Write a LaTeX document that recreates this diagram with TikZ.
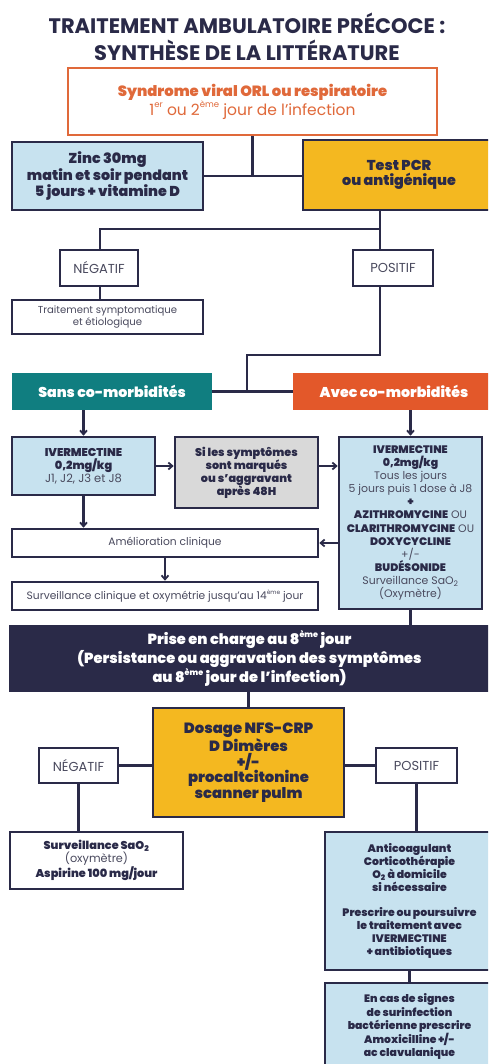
\documentclass[tikz,border=0pt]{standalone}
\usepackage{fontspec}
\IfFontExistsTF{Poppins Black}
  {\setmainfont{Poppins}[BoldFont={Poppins Black}]}
  {\IfFontExistsTF{Poppins ExtraBold}
    {\setmainfont{Poppins}[BoldFont={Poppins ExtraBold}]}
    {\setmainfont{Poppins}}}
\newfontfamily\titlefont{Poppins}
\usetikzlibrary{arrows.meta}
\definecolor{navy}{HTML}{2A2A48}
\definecolor{txtgray}{HTML}{4A4A5E}
\definecolor{orangebox}{HTML}{E0693A}
\definecolor{lightblue}{HTML}{C7E2EF}
\definecolor{yellowbox}{HTML}{F4B820}
\definecolor{tealbox}{HTML}{107E80}
\definecolor{redorange}{HTML}{E3582A}
\definecolor{graybox}{HTML}{D9D9D9}
\newcommand\fs[2]{\fontsize{#1}{#2}\selectfont}
\newcommand\supx[1]{\raisebox{0.85ex}{\scalebox{0.55}{#1}}}
\begin{document}
\begin{tikzpicture}[x=1pt,y=-1pt,
  box/.style={draw=navy, line width=2.6pt, rectangle, align=center, inner sep=0pt, text=navy},
  plain/.style={box, fill=white},
  blue/.style={box, fill=lightblue},
  conn/.style={draw=navy, line width=2.4pt},
  arr/.style={conn, -{Straight Barb[length=4pt,width=7pt,line width=1.8pt]}},
  reg/.style={font=\fs{10.7}{12}, text=txtgray},
  lab/.style={plain, font=\fs{13}{14}, text=txtgray}
]
\useasboundingbox (0,0) rectangle (488,1064);
\clip (0,0) rectangle (488,1064);
\fill[white] (0,0) rectangle (488,1064);

% title
\node[align=center, text=navy, font=\titlefont\bfseries\fs{21}{27}] (title) at (247,37)
  {TRAITEMENT AMBULATOIRE PRÉCOCE :\\SYNTHÈSE DE LA LITTÉRATURE};

% top
\node[box, draw=orangebox, line width=2.2pt, fill=white, minimum width=369pt, minimum height=67pt] (synd) at (252.5,101.5)
  {{\bfseries\fs{14.8}{15}\color{orangebox}Syndrome viral ORL ou respiratoire}\\[0pt]
   {\fs{15.5}{15.5}\color{orangebox}1\supx{er} ou 2\supx{ème} jour de l’infection}};

\node[blue, minimum width=191pt, minimum height=68pt, font=\bfseries\fs{14.3}{14}] (zinc) at (107.5,176)
  {Zinc 30mg\\matin et soir pendant\\5 jours + vitamine D};
\node[box, fill=yellowbox, minimum width=192pt, minimum height=70pt, font=\bfseries\fs{14.3}{14.5}] (pcr) at (399,175)
  {Test PCR\\ou antigénique};

\node[lab, minimum width=78pt, minimum height=36pt] (neg) at (99,268) {NÉGATIF};
\node[lab, minimum width=80pt, minimum height=36pt] (pos) at (393,268) {POSITIF};
\node[plain, minimum width=191pt, minimum height=34pt, font=\fs{10.1}{12}, text=txtgray] (trait) at (107.5,317)
  {Traitement symptomatique\\et étiologique};

\coordinate (pj) at (380,229);
\coordinate (nj) at (100,229);
\coordinate (pk) at (380,355);
\coordinate (sk) at (247,355);

% comorbidities
\node[rectangle, fill=tealbox, minimum width=200pt, minimum height=37pt, text=white, font=\bfseries\fs{14.2}{15}] (sans) at (112,391.5) {Sans co-morbidités};
\node[rectangle, fill=redorange, minimum width=202pt, minimum height=37pt, text=white, font=\bfseries\fs{14.2}{15}] (avec) at (394,391.5) {Avec co-morbidités};

\node[blue, minimum width=143pt, minimum height=58pt, font=\fs{11.5}{13}] (iverL) at (83.5,466)
  {{\bfseries\fs{11.3}{13}IVERMECTINE}\\{\bfseries\fs{11.3}{13}0,2mg/kg}\\{\color{txtgray}J1, J2, J3 et J8}};
\node[box, fill=graybox, minimum width=143pt, minimum height=71pt, font=\bfseries\fs{11.2}{13}] (si) at (246.5,472.5)
  {Si les symptômes\\sont marqués\\ou s’aggravant\\après 48H};
\node[blue, minimum width=143pt, minimum height=172pt, font=\fs{10.9}{13.1}] (iverR) at (410.5,523)
  {\textbf{IVERMECTINE}\\\textbf{0,2mg/kg}\\{\color{txtgray}Tous les jours}\\{\color{txtgray}5 jours puis 1 dose à J8}\\\textbf{+}\\
   \textbf{AZITHROMYCINE} {\color{txtgray}OU}\\\textbf{CLARITHROMYCINE} {\color{txtgray}OU}\\\textbf{DOXYCYCLINE}\\{\color{txtgray}+/-}\\\textbf{BUDÉSONIDE}\\
   {\color{txtgray}Surveillance SaO\textsubscript{2}}\\{\color{txtgray}(Oxymètre)}};

\node[plain, minimum width=306pt, minimum height=28pt, reg] (amel) at (165,543) {Amélioration clinique};
\node[plain, minimum width=306pt, minimum height=28pt, reg] (surv) at (165,596)
  {Surveillance clinique et oxymétrie jusqu’au 14\supx{ème} jour};

% bar
\node[rectangle, fill=navy, minimum width=481pt, minimum height=67pt, text=white, align=center, font=\bfseries\fs{14.6}{14}] (bar) at (249.5,658.5)
  {Prise en charge au 8\supx{ème} jour\\(Persistance ou aggravation des symptômes\\au 8\supx{ème} jour de l’infection)};

\node[box, fill=yellowbox, minimum width=191pt, minimum height=109pt, font=\bfseries\fs{14.8}{15.6}] (dos) at (248.5,762.5)
  {Dosage NFS-CRP\\D Dimères\\+/-\\procaltcitonine\\scanner pulm};
\node[lab, minimum width=79pt, minimum height=35pt] (neg2) at (78.5,765.5) {NÉGATIF};
\node[lab, minimum width=81pt, minimum height=35pt] (pos2) at (416.5,765.5) {POSITIF};

\node[plain, minimum width=173pt, minimum height=57pt, font=\fs{11.3}{13.2}] (sao) at (96.5,860.5)
  {\textbf{Surveillance SaO\textsubscript{2}}\\{\fs{11.3}{13.2}\color{txtgray}(oxymètre)}\\\textbf{Aspirine 100 mg/jour}};
\node[blue, minimum width=169pt, minimum height=138pt, font=\bfseries\fs{10.9}{12.9}] (ant) at (409.5,901)
  {Anticoagulant\\Corticothérapie\\O\textsubscript{2} à domicile\\si nécessaire\\[12.9pt]Prescrire ou poursuivre\\le traitement avec\\IVERMECTINE\\+ antibiotiques};
\node[blue, minimum width=169pt, minimum height=87pt, font=\bfseries\fs{10.8}{13.5}] (last) at (409.5,1026.5)
  {En cas de signes\\de surinfection\\bactérienne prescrire\\Amoxicilline +/-\\ac clavulanique};

% connectors
\draw[conn] (synd.south) -- (synd.south |- zinc.east);
\draw[conn] (zinc.east) -- (pcr.west |- zinc.east);
\draw[conn] (pcr.south -| pj) -- (pj) -- (nj) -- (neg.north -| nj);
\draw[conn] (pj) -- (pos.north -| pj);
\draw[conn] (neg.south -| nj) -- (trait.north -| nj);
\draw[conn] (pos.south -| pk) -- (pk) -- (sk) -- (sk |- sans.east);
\draw[conn] (sans.east) -- (avec.west);
\draw[arr] (iverL.north |- sans.south) -- (iverL.north);
\draw[arr] (iverR.north |- avec.south) -- (iverR.north);
\draw[arr] (iverL.east) -- (si.west |- iverL.east);
\draw[arr] (si.east |- iverL.east) -- (iverR.west |- iverL.east);
\draw[arr] (iverL.south) -- (amel.north -| iverL.south);
\draw[arr] (iverR.west |- amel.east) -- (amel.east);
\draw[arr] (amel.south) -- (surv.north);
\draw[conn] (iverR.south) -- (bar.north -| iverR.south);
\draw[conn] (dos.north |- bar.south) -- (dos.north);
\draw[conn] (neg2.east) -- (dos.west |- neg2.east);
\draw[conn] (dos.east |- pos2.west) -- (pos2.west);
\draw[conn] (neg2.south) -- (sao.north -| neg2.south);
\draw[conn] (pos2.south) -- (ant.north -| pos2.south);
\draw[conn] (ant.south) -- (last.north);
\end{tikzpicture}
\end{document}
